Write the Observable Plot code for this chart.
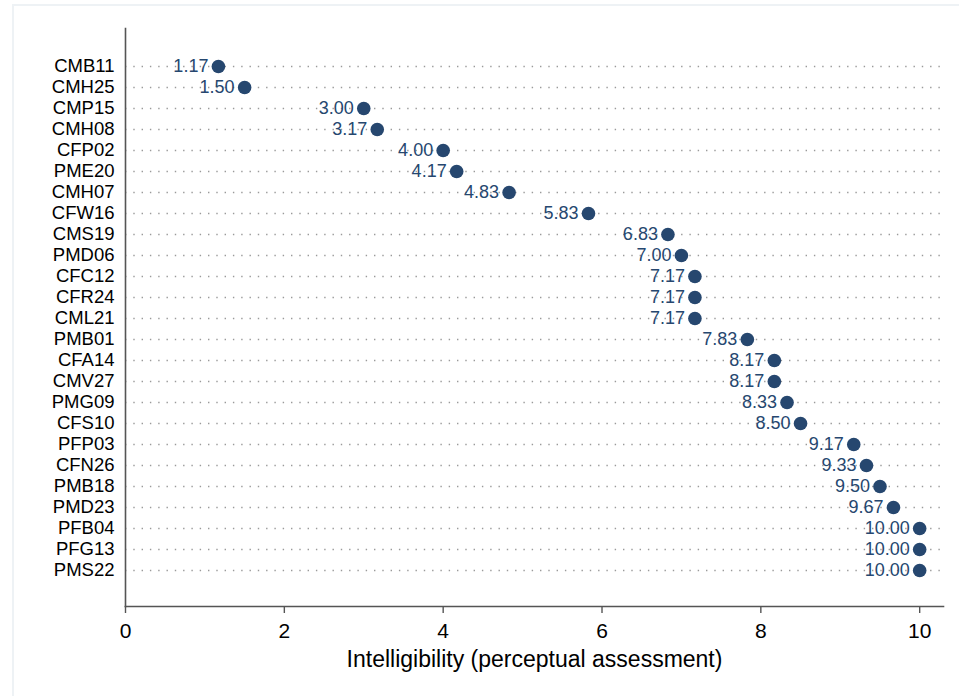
<!DOCTYPE html>
<html>
<head>
<meta charset="utf-8">
<script src="https://cdn.jsdelivr.net/npm/d3@7"></script>
<script src="https://cdn.jsdelivr.net/npm/@observablehq/plot@0.6"></script>
<style>
  html, body { margin: 0; padding: 0; background: #fff; }
  #wrap { position: relative; width: 959px; height: 696px; overflow: hidden; }
  #border { position: absolute; left: 12px; top: 4px; right: -10px; bottom: -10px;
            border-left: 2px solid #eef2f5; border-top: 2px solid #eef2f5; }
  #chart { position: absolute; left: 0; top: 0; }
</style>
</head>
<body>
<div id="wrap"><div id="border"></div><div id="chart"></div></div>
<script>
const names = ["CMB11","CMH25","CMP15","CMH08","CFP02","PME20","CMH07","CFW16","CMS19","PMD06",
  "CFC12","CFR24","CML21","PMB01","CFA14","CMV27","PMG09","CFS10","PFP03","CFN26",
  "PMB18","PMD23","PFB04","PFG13","PMS22"];
const scores = [1.17,1.50,3.00,3.17,4.00,4.17,4.83,5.83,6.83,7.00,
  7.17,7.17,7.17,7.83,8.17,8.17,8.33,8.50,9.17,9.33,
  9.50,9.67,10.00,10.00,10.00];
const xTicks = [0,2,4,6,8,10];
const xLabel = "Intelligibility (perceptual assessment)";

const data = names.map((n, i) => ({name: n, score: scores[i]}));
const navy = "#26476f";

const chart = Plot.plot({
  width: 959,
  height: 696,
  marginLeft: 125,
  marginRight: 16,
  marginTop: 28,
  marginBottom: 90,
  style: {fontFamily: "'Liberation Sans', Arial, Helvetica, sans-serif", background: "transparent", color: "black"},
  x: {domain: [0, 10.3]},
  y: {type: "point", domain: names, range: [64, 571], padding: 0},
  marks: [
    Plot.ruleY(names, {y: d => d, stroke: "#9a9a9a", strokeWidth: 1.4, strokeDasharray: "1.4 6.9"}),
    Plot.frame({anchor: "left", stroke: "#555", strokeWidth: 1.6}),
    Plot.frame({anchor: "bottom", stroke: "#555", strokeWidth: 1.6}),
    Plot.axisY({tickSize: 0, tickPadding: 11, fontSize: 18.5, label: null}),
    Plot.axisX({ticks: xTicks, tickSize: 7, tickPadding: 10, fontSize: 21, label: null, stroke: "#555", strokeWidth: 1.4}),
    Plot.text([xLabel], {frameAnchor: "bottom", lineAnchor: "top", dy: 44, fontSize: 23, fill: "black"}),
    Plot.dot(data, {x: "score", y: "name", r: 6.8, fill: navy, stroke: null}),
    Plot.text(data, {x: "score", y: "name", text: d => d.score.toFixed(2), textAnchor: "end", dx: -10, fill: navy, fontSize: 18})
  ]
});
document.getElementById("chart").appendChild(chart);
</script>
</body>
</html>
